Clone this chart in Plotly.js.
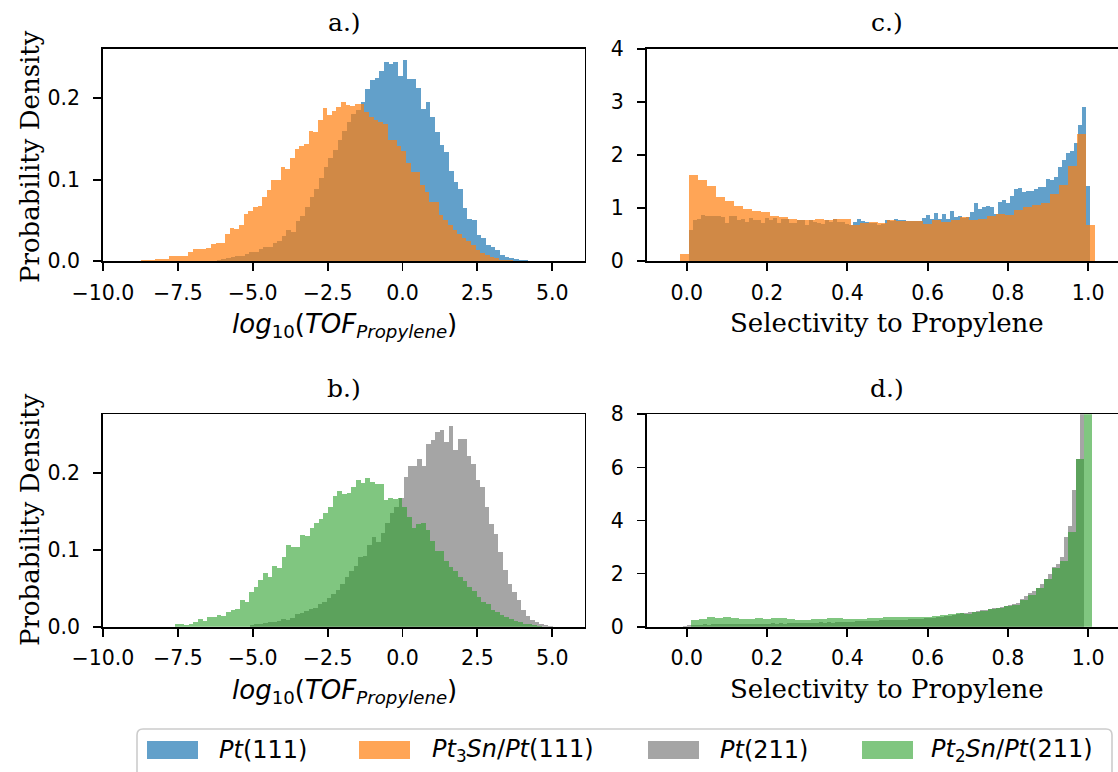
<!DOCTYPE html>
<html>
<head>
<meta charset="utf-8">
<script src="https://cdn.plot.ly/plotly-3.0.1.min.js"></script>
<style>
  html, body { margin: 0; padding: 0; overflow: hidden; background: #fff; }
  #chart { width: 1140px; height: 772px; }
</style>
</head>
<body>
<div id="chart"></div>
<script>
// ---------------- DATA ----------------
// Panel a: log10(TOF) histograms, Pt(111) and Pt3Sn/Pt(111)
const aPt111Start = -6.20, aPt111Width = 0.155;
const aPt111 = [0.002,0.003,0.004,0.005,0.0065,0.007,0.009,0.011,0.012,0.015,0.017,0.018,0.022,0.025,0.031,0.038,0.036,0.049,0.056,0.067,0.079,0.089,0.102,0.116,0.126,0.136,0.149,0.160,0.171,0.180,0.185,0.195,0.211,0.222,0.224,0.233,0.244,0.242,0.244,0.227,0.247,0.223,0.223,0.212,0.186,0.195,0.177,0.158,0.142,0.134,0.110,0.097,0.089,0.065,0.052,0.050,0.032,0.029,0.020,0.018,0.014,0.008,0.005,0.004,0.003,0.002,0.001,0.0005];

const aPt3SnStart = -8.87, aPt3SnWidth = 0.155;
const aPt3Sn = [0.0005,0.001,0.001,0.001,0.003,0.003,0.003,0.006,0.006,0.007,0.007,0.012,0.015,0.015,0.015,0.016,0.021,0.023,0.023,0.033,0.041,0.039,0.045,0.058,0.062,0.066,0.068,0.079,0.087,0.099,0.099,0.116,0.113,0.127,0.138,0.141,0.144,0.160,0.158,0.173,0.188,0.179,0.184,0.189,0.195,0.191,0.190,0.193,0.193,0.183,0.177,0.173,0.170,0.168,0.148,0.148,0.141,0.135,0.121,0.109,0.109,0.094,0.085,0.073,0.073,0.057,0.051,0.044,0.038,0.033,0.029,0.025,0.020,0.014,0.010,0.008,0.005,0.004,0.002,0.0015,0.001,0.0005,0.0003];

// Panel b: log10(TOF) histograms, Pt(211) and Pt2Sn/Pt(211)
const bPt211Start = -5.10, bPt211Width = 0.151;
const bPt211 = [0.002,0.003,0.004,0.005,0.006,0.006,0.007,0.010,0.009,0.011,0.016,0.018,0.021,0.023,0.024,0.029,0.032,0.037,0.043,0.048,0.055,0.065,0.073,0.079,0.090,0.092,0.106,0.117,0.110,0.122,0.135,0.148,0.155,0.167,0.194,0.209,0.209,0.218,0.209,0.238,0.242,0.253,0.255,0.240,0.261,0.229,0.244,0.244,0.222,0.212,0.190,0.182,0.155,0.134,0.120,0.097,0.074,0.055,0.045,0.035,0.022,0.014,0.009,0.006,0.004,0.002,0.001];

const bPt2SnStart = -7.60, bPt2SnWidth = 0.155;
const bPt2Sn = [0.0035,0.0035,0.002,0.0035,0.006,0.0095,0.007,0.012,0.013,0.0155,0.014,0.019,0.0215,0.023,0.035,0.032,0.045,0.052,0.061,0.070,0.065,0.079,0.076,0.091,0.106,0.104,0.104,0.119,0.118,0.128,0.135,0.140,0.148,0.155,0.170,0.176,0.173,0.174,0.182,0.190,0.187,0.193,0.188,0.186,0.186,0.164,0.167,0.166,0.167,0.155,0.142,0.128,0.133,0.135,0.125,0.112,0.099,0.099,0.086,0.078,0.073,0.064,0.059,0.052,0.047,0.038,0.032,0.029,0.022,0.019,0.015,0.012,0.010,0.008,0.006,0.004,0.003,0.002,0.001];

// Panel c: selectivity histograms, Pt(111) and Pt3Sn/Pt(111)
const cPt111Start = 0.005, cPt111Width = 0.01;
const cPt111 = [0.59,0.77,0.80,0.88,0.86,0.85,0.86,0.86,0.84,0.72,0.85,0.85,0.77,0.79,0.74,0.81,0.77,0.77,0.72,0.82,0.77,0.82,0.73,0.79,0.79,0.72,0.72,0.77,0.78,0.69,0.77,0.74,0.72,0.70,0.77,0.74,0.80,0.74,0.74,0.71,0.69,0.74,0.80,0.76,0.74,0.73,0.73,
  0.69,0.71,0.77,0.76,0.79,0.77,0.78,0.76,0.76,0.76,0.76,0.81,0.88,0.80,0.91,0.80,0.90,0.80,0.94,0.83,0.86,0.81,0.83,0.93,1.10,0.99,1.02,1.04,1.02,0.90,1.12,1.15,1.09,1.23,1.37,1.38,1.31,1.32,1.32,1.36,1.40,1.40,1.56,1.53,1.58,1.78,1.91,2.05,2.08,2.23,2.56,2.91,1.42];

const cPt3SnStart = -0.018, cPt3SnWidth = 0.0225;
const cPt3Sn = [0.14,1.62,1.53,1.41,1.21,1.13,1.05,0.99,0.95,0.93,0.86,0.83,0.79,0.77,0.78,0.80,0.77,0.79,0.80,0.69,0.72,0.74,0.72,0.77,0.75,0.76,0.76,0.71,0.77,0.74,0.77,0.83,0.77,0.80,0.86,0.90,0.88,0.97,1.03,1.07,1.09,1.26,1.44,1.80,2.39,0.68];

// Panel d: selectivity histograms, Pt(211) and Pt2Sn/Pt(211)
const dPt211Start = -0.01, dPt211Width = 0.01;
const dPt211 = [0.03,0.05,0.07,0.08,0.08,0.09,0.08,0.09,0.10,0.09,0.10,0.09,0.10,0.10,0.11,0.11,0.12,0.11,0.12,0.12,0.11,0.12,0.13,0.12,0.13,0.12,0.13,0.14,0.14,0.15,0.14,0.15,0.15,0.14,0.16,0.15,0.16,0.15,0.16,0.17,0.18,0.19,0.19,0.20,0.21,0.20,0.22,0.22,0.23,0.24,0.24,0.25,0.26,0.26,0.27,0.27,0.28,0.29,0.29,0.30,0.31,0.32,0.34,0.36,0.38,0.40,0.42,0.44,0.46,0.50,0.52,0.54,0.57,0.60,0.62,0.64,0.66,0.70,0.72,0.74,0.77,0.82,0.86,0.90,1.05,1.15,1.27,1.35,1.45,1.60,1.81,2.00,2.25,2.35,2.63,3.39,3.80,5.16,6.30,10.5];

const dPt2SnStart = 0.01, dPt2SnWidth = 0.02;
const dPt2Sn = [0.25,0.29,0.37,0.34,0.36,0.33,0.30,0.30,0.31,0.30,0.33,0.31,0.30,0.27,0.26,0.30,0.30,0.32,0.33,0.29,0.28,0.30,0.32,0.34,0.36,0.37,0.35,0.35,0.35,0.37,0.41,0.44,0.46,0.52,0.49,0.55,0.60,0.66,0.71,0.77,0.82,1.00,1.20,1.45,1.80,2.20,2.47,3.58,6.30,9.5];

// Labels
const panelTitles = ['a.)', 'c.)', 'b.)', 'd.)'];
const yTitle = 'Probability Density';
const xTitleTOF = '<i>log</i><sub>10</sub>(<i>TOF</i><sub><i>Propylene</i></sub>)';
const xTitleSel = 'Selectivity to Propylene';
const seriesNames = ['<i>Pt</i>(111)', '<i>Pt</i><sub>3</sub><i>Sn</i>/<i>Pt</i>(111)', '<i>Pt</i>(211)', '<i>Pt</i><sub>2</sub><i>Sn</i>/<i>Pt</i>(211)'];
const tofTicks = [-10, -7.5, -5, -2.5, 0, 2.5, 5];
const selTicks = [0, 0.2, 0.4, 0.6, 0.8, 1.0];

// ---------------- STYLE ----------------
const colors = ['rgba(31,119,180,0.7)', 'rgba(255,127,14,0.7)', 'rgba(127,127,127,0.7)', 'rgba(44,160,44,0.6)'];
const W = 1140, H = 772;
const fx = p => p / W;
const fy = p => 1 - p / H;

function binLefts(start, width, n) {
  const out = [];
  for (let i = 0; i < n; i++) out.push(start + i * width);
  return out;
}
function hist(vals, start, width, color, xa, ya, name) {
  return {
    type: 'bar', name: name,
    x: binLefts(start, width, vals.length), y: vals,
    width: width, offset: 0,
    marker: { color: color, line: { width: 0 } },
    xaxis: xa, yaxis: ya, hoverinfo: 'skip', showlegend: false
  };
}

const data = [
  hist(aPt111, aPt111Start, aPt111Width, colors[0], 'x', 'y', seriesNames[0]),
  hist(aPt3Sn, aPt3SnStart, aPt3SnWidth, colors[1], 'x', 'y', seriesNames[1]),
  hist(cPt111, cPt111Start, cPt111Width, colors[0], 'x2', 'y2', seriesNames[0]),
  hist(cPt3Sn, cPt3SnStart, cPt3SnWidth, colors[1], 'x2', 'y2', seriesNames[1]),
  hist(bPt211, bPt211Start, bPt211Width, colors[2], 'x3', 'y3', seriesNames[2]),
  hist(bPt2Sn, bPt2SnStart, bPt2SnWidth, colors[3], 'x3', 'y3', seriesNames[3]),
  hist(dPt211, dPt211Start, dPt211Width, colors[2], 'x4', 'y4', seriesNames[2]),
  hist(dPt2Sn, dPt2SnStart, dPt2SnWidth, colors[3], 'x4', 'y4', seriesNames[3])
];

const axBase = {
  showline: true, mirror: true, linecolor: '#000', linewidth: 1.8,
  ticks: 'outside', ticklen: 8, tickwidth: 1.8, tickcolor: '#000',
  showgrid: false, zeroline: false,
  tickfont: { family: 'DejaVu Sans', size: 20.5, color: '#000' }
};
const xAx = Object.assign({}, axBase, { ticklabelstandoff: 4 });
const yAx = Object.assign({}, axBase, { ticklabelstandoff: 9 });
const leftDom = [fx(103), fx(584.6)];
const rightDom = [fx(646.7), fx(1128.3)];
const topDom = [fy(261.3), fy(49)];
const botDom = [fy(626.7), fy(414.3)];

const layout = {
  width: W, height: H,
  margin: { l: 0, r: 0, t: 0, b: 0 },
  paper_bgcolor: '#fff', plot_bgcolor: '#fff',
  barmode: 'overlay', bargap: 0, showlegend: false,
  font: { family: 'DejaVu Sans', size: 20, color: '#000' },
  xaxis:  Object.assign({}, xAx, { domain: leftDom, range: [-10, 6.08], anchor: 'y', tickvals: tofTicks, tickformat: '.1f' }),
  yaxis:  Object.assign({}, yAx, { domain: topDom, range: [0, 0.26], anchor: 'x', tickvals: [0, 0.1, 0.2], tickformat: '.1f' }),
  xaxis2: Object.assign({}, xAx, { domain: rightDom, range: [-0.1, 1.1], anchor: 'y2', tickvals: selTicks, tickformat: '.1f' }),
  yaxis2: Object.assign({}, yAx, { domain: topDom, range: [0, 4], anchor: 'x2', tickvals: [0, 1, 2, 3, 4] }),
  xaxis3: Object.assign({}, xAx, { domain: leftDom, range: [-10, 6.08], anchor: 'y3', tickvals: tofTicks, tickformat: '.1f' }),
  yaxis3: Object.assign({}, yAx, { domain: botDom, range: [0, 0.276], anchor: 'x3', tickvals: [0, 0.1, 0.2], tickformat: '.1f' }),
  xaxis4: Object.assign({}, xAx, { domain: rightDom, range: [-0.1, 1.1], anchor: 'y4', tickvals: selTicks, tickformat: '.1f' }),
  yaxis4: Object.assign({}, yAx, { domain: botDom, range: [0, 8], anchor: 'x4', tickvals: [0, 2, 4, 6, 8] }),
  annotations: [],
  shapes: []
};

const serif = 'DejaVu Serif';
function ann(text, x, y, size, family, extra) {
  return Object.assign({
    text: text, xref: 'paper', yref: 'paper', x: fx(x), y: fy(y),
    xanchor: 'center', yanchor: 'middle', showarrow: false,
    font: { family: family, size: size, color: '#000' }
  }, extra || {});
}
// subplot titles
layout.annotations.push(ann(panelTitles[0], 344, 23, 25, serif));
layout.annotations.push(ann(panelTitles[1], 887, 23, 25, serif));
layout.annotations.push(ann(panelTitles[2], 344, 388, 25, serif));
layout.annotations.push(ann(panelTitles[3], 887, 388, 25, serif));
// y titles
layout.annotations.push(ann(yTitle, 30, 157, 26, serif, { textangle: -90 }));
layout.annotations.push(ann(yTitle, 30, 520, 26, serif, { textangle: -90 }));
// x titles
layout.annotations.push(ann(xTitleTOF, 344, 326, 26, 'DejaVu Sans'));
layout.annotations.push(ann(xTitleTOF, 344, 691, 26, 'DejaVu Sans'));
layout.annotations.push(ann(xTitleSel, 887, 323, 26, serif));
layout.annotations.push(ann(xTitleSel, 887, 689, 26, serif));

// legend (frame, patches, labels)
const lgX0 = fx(137), lgX1 = fx(1112), lgY0 = fy(729), lgY1 = fy(800), r = 6;
const rx = r / W, ry = r / H;
layout.shapes.push({
  type: 'path', xref: 'paper', yref: 'paper',
  path: `M ${lgX0 + rx},${lgY0} L ${lgX1 - rx},${lgY0} Q ${lgX1},${lgY0} ${lgX1},${lgY0 - ry} L ${lgX1},${lgY1} L ${lgX0},${lgY1} L ${lgX0},${lgY0 - ry} Q ${lgX0},${lgY0} ${lgX0 + rx},${lgY0} Z`,
  line: { color: '#cccccc', width: 1.6 }, fillcolor: 'rgba(255,255,255,0.8)'
});
const patchX = [147, 359, 648, 862];
const textX = [217, 430, 718, 929];
for (let i = 0; i < 4; i++) {
  layout.shapes.push({
    type: 'rect', xref: 'paper', yref: 'paper',
    x0: fx(patchX[i]), x1: fx(patchX[i] + 51), y0: fy(741), y1: fy(759),
    line: { width: 0 }, fillcolor: colors[i]
  });
  layout.annotations.push(ann(seriesNames[i], textX[i], 750, 24, 'DejaVu Sans', { xanchor: 'left' }));
}

Plotly.newPlot('chart', data, layout, { staticPlot: true, displayModeBar: false });
</script>
</body>
</html>
